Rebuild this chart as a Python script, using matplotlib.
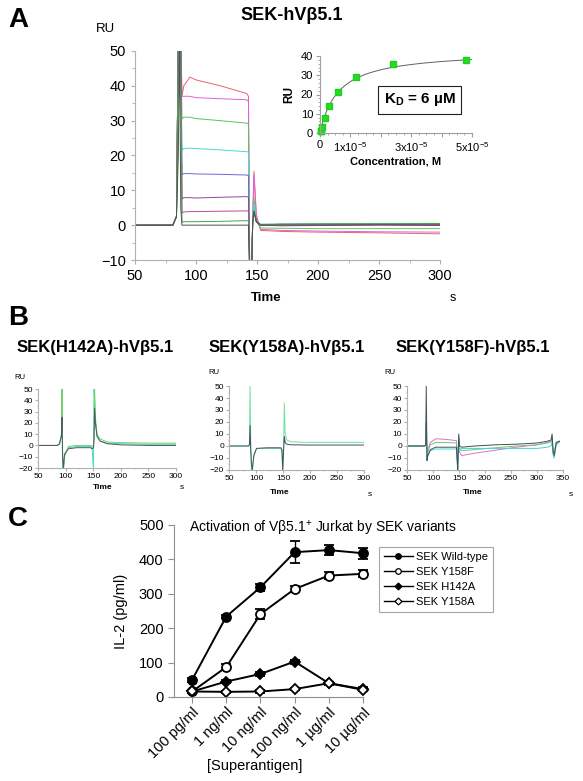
import numpy as np
import matplotlib
matplotlib.use("Agg")
import matplotlib.pyplot as plt
from matplotlib.ticker import MultipleLocator
from matplotlib.lines import Line2D

plt.rcParams['font.family'] = ['Liberation Sans', 'DejaVu Sans']
plt.rcParams['mathtext.fontset'] = 'custom'
plt.rcParams['mathtext.rm'] = 'Liberation Sans'
plt.rcParams['mathtext.bf'] = 'Liberation Sans:bold'

# ---- panel A: sensorgram (SEK wild-type) ----
a_time = [50, 81, 84, 85.5, 86.5, 87.5, 88.5, 90, 95, 100, 120, 141.5, 143, 144,
          145.5, 146.5, 147.5, 149.5, 153, 170, 200, 250, 300]
a_curves = {
    '#e8646e': [0, 0, 2.5, 55, 55, 55, 37.0, 40.0, 42.5, 41.7, 40.0, 37.8, 37.0, -14, -14, 2, 15.5, 3, -1.5, -1.8, -2.0, -2.2, -2.5],
    '#e060d8': [0, 0, 2.5, 55, 55, 55, 37.0, 37.0, 37.0, 36.6, 36.3, 36.0, 35.5, -14, -14, 2, 14.5, 2, -1.2, -1.5, -1.7, -1.9, -2.0],
    '#58c858': [0, 0, 2.5, 55, 55, 55, 30.5, 31.0, 31.0, 30.6, 30.0, 29.3, 29.0, -14, -14, 2, 8, 1, -0.8, -0.9, -1.0, -1.0, -1.0],
    '#48d8d8': [0, 0, 2.5, 55, 55, 55, 21.5, 22.0, 22.1, 22.0, 21.6, 21.1, 21.0, -14, -14, 2, 6, 1, 0.3, 0.3, 0.4, 0.5, 0.5],
    '#6a6ad0': [0, 0, 2.5, 55, 55, 55, 14.5, 14.8, 14.8, 14.7, 14.6, 14.4, 14.2, -14, -14, 1, 4, 1, 0.2, 0.3, 0.2, 0.3, 0.3],
    '#8a4a9a': [0, 0, 2.5, 55, 55, 55, 7.5, 7.9, 7.9, 7.8, 8.0, 8.2, 8.0, -14, -14, 1, 4, 1, 0, 0.1, 0, 0.2, 0.1],
    '#c04a98': [0, 0, 2.5, 55, 55, 55, 3.5, 3.8, 3.9, 3.9, 4.0, 4.1, 4.0, -14, -14, 1, 4, 1, 0, -0.2, -0.1, 0, -0.1],
    '#44a844': [0, 0, 2.5, 55, 55, 55, 0.8, 1.0, 1.0, 1.0, 1.1, 1.3, 1.2, -14, -14, 1, 4, 1, 0, 0.3, 0.4, 0.4, 0.5],
    '#505050': [0, 0, 2.5, 20, 55, 5, 0, 0, 0, 0, 0, 0, 0, -14, -14, 1, 4, 1, 0, 0, 0, 0.1, 0],
}

# inset: steady-state binding
conc = [0.19e-6, 0.375e-6, 0.75e-6, 1.5e-6, 3e-6, 6e-6, 12e-6, 24e-6, 48e-6]
ru_ss = [0.8, 1.2, 3.2, 7.8, 14.1, 21.2, 29.0, 35.8, 37.9]
fit_rmax = 42.7
fit_kd = 6e-6

# ---- panel B: mutants ----
b1_time = [50, 85, 89, 92.5, 93.5, 94.5, 96, 98, 105, 120, 145, 148, 150.5, 151.5,
           152.5, 154, 157, 162, 175, 200, 250, 300]
b1_curves = {
    '#48d8c8': [0, 0, 1.5, 10, 40, -22, -22, -8, -2, -1, -1, -2, -22, 52, 40, 20, 8, 4, 2, 1.5, 1, 1],
    '#70d070': [0, 0, 1.5, 10, 52, -5, -22, -10, -1, 0, 0, -1, 0, 10, 52, 25, 10, 6, 3, 2.5, 2, 2],
    '#505858': [0, 0, 1.5, 8, 25, -10, -20, -8, -3, -2, -2, -3, -2, 5, 33, 20, 8, 4, 1.5, 0.5, 0, 0],
}
b2_time = [50, 86, 88, 89, 90, 91.5, 93, 96, 101, 120, 146, 148, 149.5, 151, 152.5,
           154, 157, 165, 200, 300]
b2_curves = {
    '#70e0a0': [0, 0, 1, 52, 10, -22, -22, -8, -2, -2, -2, -3, -22, 0, 36, 10, 5, 3.5, 3, 3],
    '#405060': [0, 0, 1, 17, 0, -15, -20, -8, -2, -1.5, -1.5, -3, -20, -5, 8, 3, 1.5, 1, 0.8, 0.8],
}
b3_time = [50, 84, 86, 87, 88.5, 90, 95, 105, 125, 145, 146.5, 147.5, 149.5, 151, 155,
           180, 220, 260, 300, 320, 327, 329, 331, 333, 337, 343]
b3_curves = {
    '#e070c8': [0, 0, 1, 20, -12, -3, 3, 6, 5.5, 4.5, -5, -15, 5, -5, -8, -6, -3.5, -1, 1, 3, 4, 8, -5, -6, 2, 4],
    '#70c870': [0, 0, 1, 20, -12, -5, 1, 3, 3, 2.5, -8, -18, 8, -2, -4, -3, -1.5, 0, 1, 2.5, 3.5, 6, -4, -6, 3, 4],
    '#48d0d8': [0, 0, 1, 20, -12, -8, -4, -2.5, -2.5, -2.5, -12, -20, 6, -3, -2, -2, -2, -2, -2, -1, 0, 4, -8, -10, 1, 3],
    '#405058': [0, 0, 1, 50, -12, -8, -3, -1, -1, -1, -12, -20, 10, 0, -1, 0, 1, 1.5, 2.5, 4, 5, 10, -5, -8, 3, 4],
}

# ---- panel C: IL-2 ----
doses = ['100 pg/ml', '1 ng/ml', '10 ng/ml', '100 ng/ml', '1 µg/ml', '10 µg/ml']
wt = [50, 234, 319, 421, 427, 418]
wt_err = [5, 5, 10, 32, 14, 16]
y158f = [16, 87, 241, 314, 353, 358]
y158f_err = [4, 8, 15, 8, 10, 10]
h142a = [16, 45, 67, 103, 40, 23]
h142a_err = [3, 4, 5, 6, 4, 5]
y158a = [16, 15, 16, 23, 40, 21]
y158a_err = [3, 3, 3, 4, 4, 5]

W, H = 583, 781
fig = plt.figure(figsize=(W / 100, H / 100), dpi=100)


def px_axes(l, t, r, b):
    return fig.add_axes([l / W, 1 - b / H, (r - l) / W, (b - t) / H])


def ftext(x, y, s, **kw):
    fig.text(x / W, 1 - y / H, s, ha='center', va='center', **kw)


def sensor_style(ax, fs, major_x, minor_x):
    for s in ['top', 'right']:
        ax.spines[s].set_visible(False)
    for s in ['left', 'bottom']:
        ax.spines[s].set_color('#b0b0b0')
        ax.spines[s].set_linewidth(0.8)
    ax.xaxis.set_major_locator(MultipleLocator(major_x))
    ax.xaxis.set_minor_locator(MultipleLocator(minor_x))
    ax.yaxis.set_major_locator(MultipleLocator(10))
    ax.yaxis.set_minor_locator(MultipleLocator(5))
    ax.tick_params(which='both', color='#b0b0b0', labelsize=fs, direction='out')
    ax.tick_params(which='major', length=3)
    ax.tick_params(which='minor', length=2)


# panel A main
axA = px_axes(135, 51, 440, 260)
for col, vals in a_curves.items():
    axA.plot(a_time, vals, color=col, lw=0.7)
axA.set_xlim(50, 300)
axA.set_ylim(-10, 50)
sensor_style(axA, 10.5, 50, 25)
ftext(105, 29, 'RU', fontsize=9.5)
ftext(266, 298, 'Time', fontsize=9.5, fontweight='bold')
ftext(453, 298, 's', fontsize=9)

# inset
axI = px_axes(320, 56, 472, 133)
cc = np.linspace(0, 5e-5, 200)
axI.plot(cc, fit_rmax * cc / (fit_kd + cc), color='#606060', lw=0.7)
axI.plot(conc, ru_ss, 's', color='#22dd22', ms=4, mec='#22cc22', clip_on=False)
axI.set_xlim(0, 5e-5)
axI.set_ylim(0, 40)
for s in ['top', 'right']:
    axI.spines[s].set_visible(False)
for s in ['left', 'bottom']:
    axI.spines[s].set_color('#a0a0a0')
axI.set_xticks([0, 1e-5, 2e-5, 3e-5, 4e-5, 5e-5])
axI.set_xticklabels(['0', '1x10$^{-5}$', '', '3x10$^{-5}$', '', '5x10$^{-5}$'])
axI.xaxis.set_minor_locator(MultipleLocator(0.25e-5))
axI.yaxis.set_major_locator(MultipleLocator(10))
axI.yaxis.set_minor_locator(MultipleLocator(2))
axI.tick_params(which='both', color='#a0a0a0', labelsize=8, direction='out', pad=2)
axI.tick_params(which='major', length=3)
axI.tick_params(which='minor', length=1.5)
axI.set_xlabel('Concentration, M', fontsize=8, fontweight='bold', labelpad=2)
axI.set_ylabel('RU', fontsize=8.5, fontweight='bold', labelpad=4)
axI.text(0.655, 0.43, 'K$_\\mathbf{D}$ = 6 µM', transform=axI.transAxes, fontsize=11,
         fontweight='bold', ha='center', va='center',
         bbox=dict(boxstyle='square,pad=0.35', fc='white', ec='#202020', lw=0.8))

ftext(292, 15, 'SEK-hVβ5.1', fontsize=13, fontweight='bold')
ftext(18, 20, 'A', fontsize=20, fontweight='bold')

# panel B
b_panels = [
    ((38, 389, 176, 468), b1_time, b1_curves, 300, 'SEK(H142A)-hVβ5.1', 95, (20, 378), (103, 488), (182, 488)),
    ((229, 386, 364, 470), b2_time, b2_curves, 300, 'SEK(Y158A)-hVβ5.1', 287, (214, 372), (280, 493), (370, 494)),
    ((407, 386, 563, 470), b3_time, b3_curves, 350, 'SEK(Y158F)-hVβ5.1', 473, (390, 373), (473, 493), (571, 494)),
]
for box, tt, curves, xmax, title, tx, ru_pos, time_pos, s_pos in b_panels:
    ax = px_axes(*box)
    for col, vals in curves.items():
        ax.plot(tt, vals, color=col, lw=0.7)
    ax.set_xlim(50, xmax)
    ax.set_ylim(-20, 50)
    sensor_style(ax, 6, 50, 25)
    ax.tick_params(which='major', length=2, pad=1.5)
    ax.tick_params(which='minor', length=1)
    ftext(tx, 348, title, fontsize=12, fontweight='bold')
    ftext(ru_pos[0], ru_pos[1], 'RU', fontsize=5.5)
    ftext(time_pos[0], time_pos[1], 'Time', fontsize=6, fontweight='bold')
    ftext(s_pos[0], s_pos[1], 's', fontsize=6)
ftext(18, 318, 'B', fontsize=20, fontweight='bold')

# panel C
axC = px_axes(174, 525, 363, 697)
x = np.arange(len(doses))
series = [
    (wt, wt_err, 'o', 'black', 'SEK Wild-type'),
    (y158f, y158f_err, 'o', 'white', 'SEK Y158F'),
    (h142a, h142a_err, 'D', 'black', 'SEK H142A'),
    (y158a, y158a_err, 'D', 'white', 'SEK Y158A'),
]
handles = []
for vals, err, mk, fc, lab in series:
    axC.errorbar(x, vals, yerr=err, fmt='-' + mk, color='black', mfc=fc, mec='black', mew=1.3,
                 lw=1.4, capsize=3.5, elinewidth=1.0, capthick=1.0, clip_on=False,
                 ms=6.5 if mk == 'o' else 5.5)
    handles.append(Line2D([], [], color='black', lw=1.0, marker=mk, mfc=fc, mec='black',
                          mew=0.9, ms=4 if mk == 'o' else 3.5, label=lab))
axC.set_xlim(-0.53, 5.0)
axC.set_ylim(0, 500)
axC.set_xticks(x)
axC.set_xticklabels(doses, rotation=45, ha='right', rotation_mode='anchor', fontsize=10)
axC.yaxis.set_major_locator(MultipleLocator(100))
for s in ['top', 'right']:
    axC.spines[s].set_visible(False)
for s in ['left', 'bottom']:
    axC.spines[s].set_color('#909090')
axC.tick_params(color='#909090', labelsize=10.5, direction='out', length=4)
axC.tick_params(axis='x', pad=2)
axC.set_ylabel('IL-2 (pg/ml)', fontsize=10.5, labelpad=8)
ftext(255, 766, '[Superantigen]', fontsize=10.5)
ftext(323, 529, 'Activation of Vβ5.1$^{+}$ Jurkat by SEK variants', fontsize=10)
leg = fig.legend(handles=handles, loc='upper left', bbox_to_anchor=(379 / W, 1 - 547 / H),
                 fontsize=8, frameon=True, fancybox=False, edgecolor='#909090',
                 borderaxespad=0, handlelength=2.6, labelspacing=0.45,
                 borderpad=0.45, handletextpad=0.3)
leg.get_frame().set_linewidth(0.8)
ftext(18, 519, 'C', fontsize=20, fontweight='bold')

fig.savefig('out.png', dpi=100, facecolor='white')
